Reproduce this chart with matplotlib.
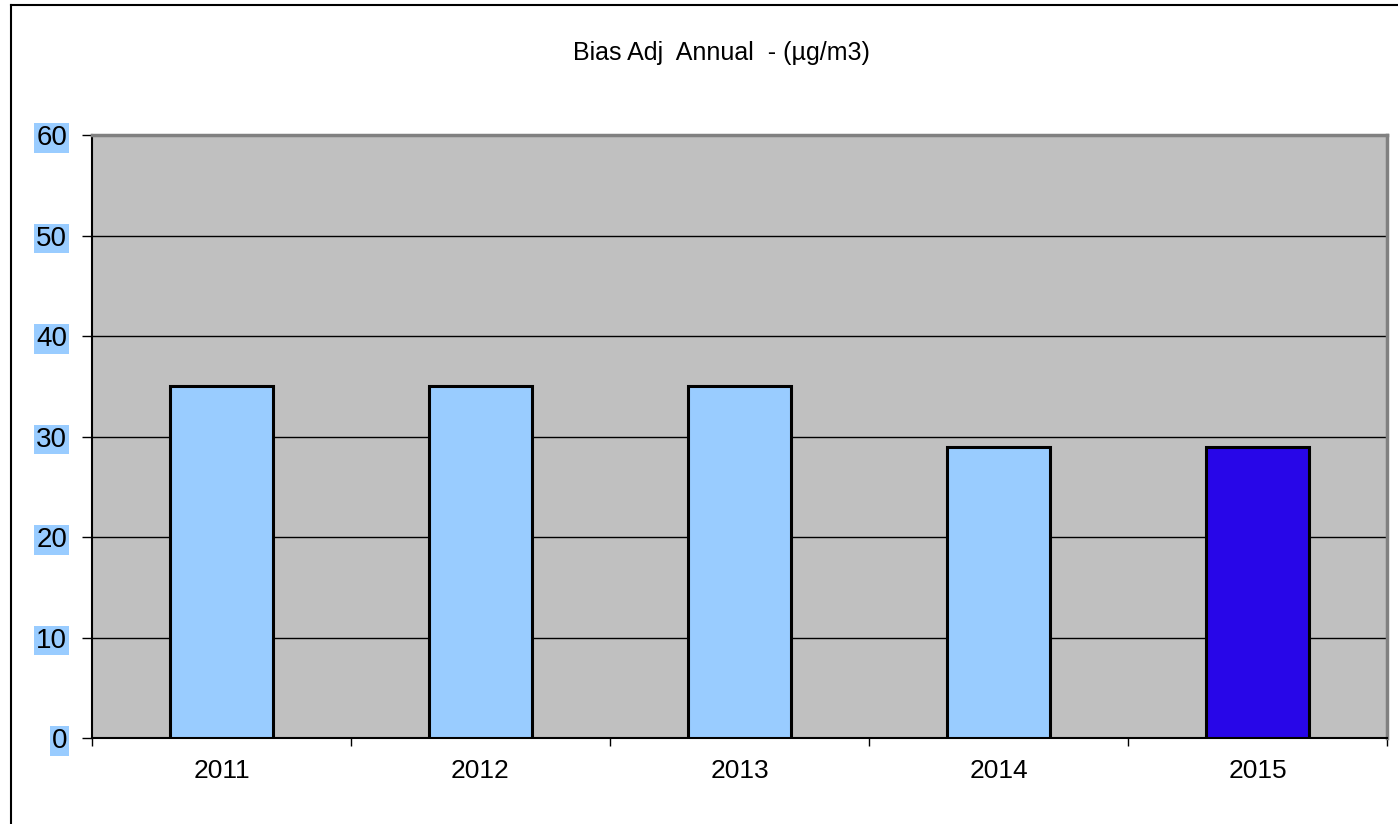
import matplotlib.pyplot as plt
from matplotlib.lines import Line2D

plt.rcParams['font.family'] = ['Liberation Sans', 'DejaVu Sans']

years = ['2011', '2012', '2013', '2014', '2015']
values = [35, 35, 35, 29, 29]
colors = ['#99CCFF', '#99CCFF', '#99CCFF', '#99CCFF', '#2806E8']
yticks = [0, 10, 20, 30, 40, 50, 60]

fig = plt.figure(figsize=(13.98, 8.24), dpi=100)
ax = fig.add_axes([92 / 1398, 86 / 824, 1295 / 1398, 603 / 824])

# chart frame (left and top edges only)
fig.add_artist(Line2D([11 / 1398, 11 / 1398], [0, 1 - 5 / 824], color='black', lw=1.5,
                      transform=fig.transFigure))
fig.add_artist(Line2D([11 / 1398, 1], [1 - 5 / 824, 1 - 5 / 824], color='black', lw=1.5,
                      transform=fig.transFigure))

ax.set_facecolor('#C0C0C0')
x = list(range(len(years)))
ax.bar(x, values, width=0.4, color=colors, edgecolor='black', linewidth=2.2, zorder=3)

ax.set_xlim(-0.5, len(years) - 0.5)
ax.set_ylim(0, 60)
ax.set_yticks(yticks)
for y in yticks[1:-1]:
    ax.axhline(y, color='black', lw=1, zorder=1)

# spines
ax.spines['left'].set_color('black')
ax.spines['left'].set_linewidth(1.5)
ax.spines['bottom'].set_color('black')
ax.spines['bottom'].set_linewidth(1.5)
ax.spines['top'].set_color('#808080')
ax.spines['top'].set_linewidth(2.5)
ax.spines['right'].set_color('#808080')
ax.spines['right'].set_linewidth(2.5)

ax.tick_params(axis='y', direction='out', length=7, width=1, pad=11, labelsize=20)
for lab in ax.get_yticklabels():
    lab.set_bbox(dict(facecolor='#99CCFF', edgecolor='none', pad=1.2))

ax.set_xticks(x)
ax.set_xticklabels(years)
ax.set_xticks([i + 0.5 for i in range(-1, len(years))], minor=True)
ax.tick_params(axis='x', which='major', length=0, pad=15, labelsize=19)
ax.tick_params(axis='x', which='minor', direction='out', length=6, width=1)

fig.text(721 / 1398, 1 - 53 / 824, 'Bias Adj  Annual  - (µg/m3)', ha='center', va='center',
         fontsize=18)

fig.savefig('out.png', dpi=100)
